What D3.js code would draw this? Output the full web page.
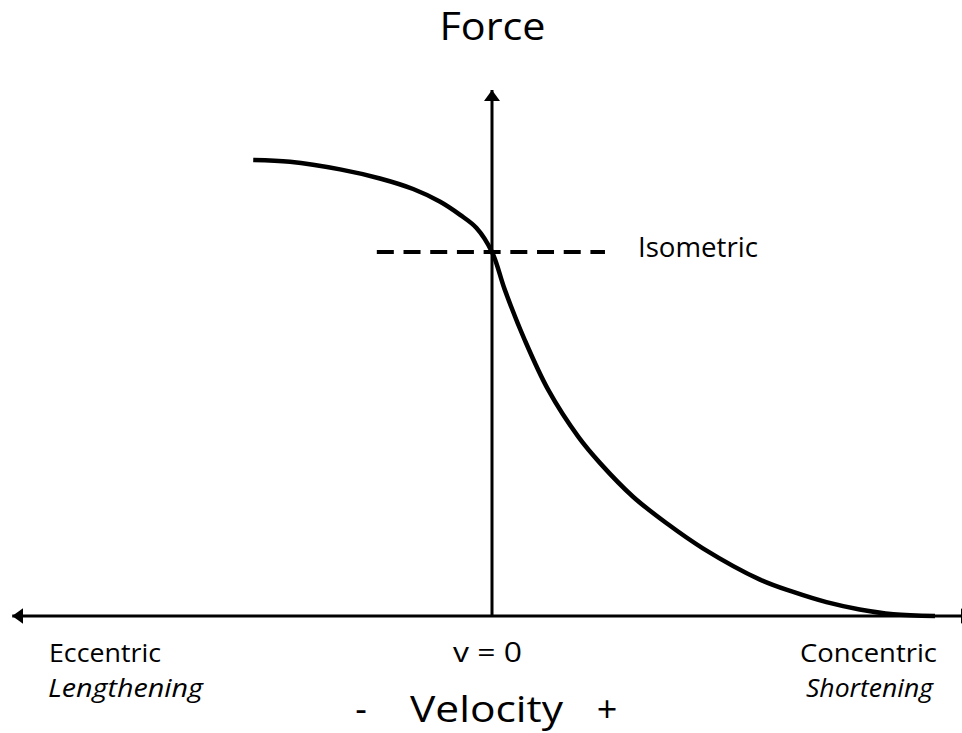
<!DOCTYPE html>
<html lang="en">
<head>
  <meta charset="UTF-8">
  <title>Force-velocity curve</title>
  <script src="https://d3js.org/d3.v7.min.js"></script>
  <style>
    body { margin: 0; background: #fff; }
    svg { display: block; }
    text { font-family: "Open Sans", "Noto Sans", sans-serif; fill: #000; }
    .curve { fill: none; stroke: #000; stroke-width: 4.5px; }
    .axis-line { stroke: #000; stroke-width: 3px; }
    .iso { stroke: #000; stroke-width: 4px; stroke-dasharray: 17 9.7; }
  </style>
</head>
<body>
  <svg width="962" height="733"></svg>
  <script>
    // velocity (shortening +) and force (isometric = 1)
    var velocity = [-0.539, -0.456, -0.343, -0.253, -0.178, -0.117, -0.072, -0.035, 0,
                    0.029, 0.074, 0.127, 0.195, 0.244, 0.319, 0.395, 0.476,
                    0.605, 0.680, 0.755, 0.830, 0.906, 1];
    var force    = [1.253, 1.248, 1.227, 1.202, 1.173, 1.138, 1.102, 1.066, 1,
                    0.896, 0.758, 0.621, 0.492, 0.420, 0.327, 0.254, 0.186,
                    0.100, 0.066, 0.038, 0.018, 0.005, 0];
    var isometricForce = 1;
    var isometricSpan = [-0.26, 0.255];
    var velocityAxisEnds = [-1.083, 1.083];
    var forceAxisTop = 1.445;

    var svg = d3.select("svg");

    var x = d3.scaleLinear().domain([-1, 1]).range([49, 935]),
        y = d3.scaleLinear().domain([0, 1]).range([616, 252]);

    var defs = svg.append("defs");
    defs.append("marker")
        .attr("id", "arrow")
        .attr("markerUnits", "userSpaceOnUse")
        .attr("viewBox", "0 -8 11 16")
        .attr("refX", 11).attr("refY", 0)
        .attr("markerWidth", 11).attr("markerHeight", 16)
        .attr("orient", "auto")
      .append("path")
        .attr("d", "M0,-8L11,0L0,8Z")
        .attr("fill", "#000");

    // horizontal (velocity) axis, arrows both ways
    velocityAxisEnds.forEach(function(v) {
      svg.append("line")
          .attr("class", "axis-line")
          .attr("x1", x(0)).attr("y1", y(0))
          .attr("x2", x(v)).attr("y2", y(0))
          .attr("marker-end", "url(#arrow)");
    });

    // vertical (force) axis
    svg.append("line")
        .attr("class", "axis-line")
        .attr("x1", x(0)).attr("y1", y(0))
        .attr("x2", x(0)).attr("y2", y(forceAxisTop))
        .attr("marker-end", "url(#arrow)");

    // isometric dashed line
    svg.append("line")
        .attr("class", "iso")
        .attr("x1", x(isometricSpan[0])).attr("y1", y(isometricForce))
        .attr("x2", x(isometricSpan[1])).attr("y2", y(isometricForce));

    var pts = velocity.map(function(v, i) { return [v, force[i]]; });
    var line = d3.line()
        .curve(d3.curveCatmullRom.alpha(0.5))
        .x(function(d) { return x(d[0]); })
        .y(function(d) { return y(d[1]); });

    svg.append("path")
        .datum(pts)
        .attr("class", "curve")
        .attr("d", line);

    // labels (textLength squeezes Open Sans to the narrower original face)
    function label(tx, ty, str, size, len, anchor) {
      var t = svg.append("text")
          .attr("x", tx).attr("y", ty)
          .attr("text-anchor", anchor || "start")
          .style("font-size", size + "px")
          .text(str);
      if (len) t.attr("textLength", len).attr("lengthAdjust", "spacingAndGlyphs");
      return t;
    }

    // two-line label: upright first line, italic second line
    function label2(tx, ty, lines, size, anchor) {
      var t = svg.append("text")
          .attr("text-anchor", anchor)
          .style("font-size", size + "px");
      lines.forEach(function(l, i) {
        t.append("tspan")
            .attr("x", tx[i]).attr("y", ty + i * 35)
            .attr("textLength", l.len).attr("lengthAdjust", "spacingAndGlyphs")
            .style("font-style", i ? "italic" : "normal")
            .text(l.text);
      });
    }

    label(x(0) + 0.5, 40, "Force", 38, 106, "middle");
    label(x(isometricSpan[1]) + 33, y(isometricForce) + 5, "Isometric", 28, 120);

    label2([49, 48], 662, [{text: "Eccentric", len: 112}, {text: "Lengthening", len: 155}], 25.5, "start");
    label(x(0) - 4.5, 662, "v = 0", 27, 69, "middle");
    label2([937, 933], 662, [{text: "Concentric", len: 137}, {text: "Shortening", len: 127}], 25.5, "end");

    label(361, 722, "-", 36, null, "middle");
    label(410, 722, "Velocity", 36, 153);
    label(607, 722, "+", 36, null, "middle");
  </script>
</body>
</html>
